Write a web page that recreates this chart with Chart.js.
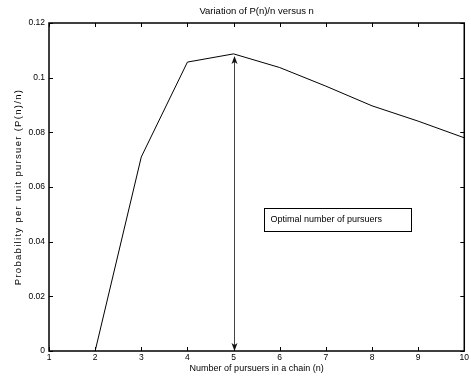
<!DOCTYPE html>
<html lang="en">
<head>
  <meta charset="UTF-8">
  <title>Variation of P(n)/n versus n</title>
  <script src="https://cdn.jsdelivr.net/npm/chart.js"></script>
  <style>
    body { margin:0; background:#fff; }
    #wrap { width:471px; height:377px; }
  </style>
</head>
<body>
<div id="wrap"><canvas id="chart" width="471" height="377"></canvas></div>

<script>
  // data
  const nValues = [2, 3, 4, 5, 6, 7, 8, 9, 10];
  const pValues = [0, 0.071, 0.1057, 0.1087, 0.1037, 0.0969, 0.0897, 0.0841, 0.078];
  const xTicks  = [1, 2, 3, 4, 5, 6, 7, 8, 9, 10];
  const yTicks  = [0, 0.02, 0.04, 0.06, 0.08, 0.1, 0.12];

  // annotation: double arrow at the optimum and the text box
  const optimumN     = 5;
  const optimumP     = 0.1087;
  const noteText     = 'Optimal number of pursuers';
  const noteBoxX     = [5.67, 8.85];
  const noteBoxY     = [0.0439, 0.0523];
  const yTitle       = 'Probability per unit pursuer (P(n)/n)';

  const FONT = 'Arial, "Liberation Sans", Helvetica, sans-serif';

  // frame + inward ticks on all four sides, like the original plot
  const framePlugin = {
    id: 'frame',
    afterDatasetsDraw(chart){
      const {ctx, chartArea:a, scales:{x, y}} = chart;
      ctx.save();
      ctx.strokeStyle = '#000';
      ctx.lineWidth = 1;
      ctx.beginPath();
      xTicks.forEach(v=>{
        const px = Math.round(x.getPixelForValue(v)) + 0.5;
        ctx.moveTo(px, a.bottom); ctx.lineTo(px, a.bottom - 4);
        ctx.moveTo(px, a.top);    ctx.lineTo(px, a.top + 4);
      });
      yTicks.forEach(v=>{
        const py = Math.round(y.getPixelForValue(v)) + 0.5;
        ctx.moveTo(a.left, py);  ctx.lineTo(a.left + 4, py);
        ctx.moveTo(a.right, py); ctx.lineTo(a.right - 4, py);
      });
      ctx.stroke();
      ctx.lineWidth = 1.5;
      ctx.strokeRect(a.left, a.top, a.right - a.left, a.bottom - a.top);

      // y axis title
      ctx.fillStyle = '#000';
      ctx.font = '9.5px ' + FONT;
      ctx.letterSpacing = '1.3px';
      ctx.textAlign = 'center';
      ctx.textBaseline = 'middle';
      ctx.translate(18, (a.top + a.bottom) / 2);
      ctx.rotate(-Math.PI / 2);
      ctx.fillText(yTitle, 0, 0);
      ctx.restore();
    }
  };

  function arrowHead(ctx, x, y, dir){
    // dir = -1 pointing up, 1 pointing down
    ctx.beginPath();
    ctx.moveTo(x, y);
    ctx.lineTo(x - 3, y - dir*8);
    ctx.lineTo(x, y - dir*6);
    ctx.lineTo(x + 3, y - dir*8);
    ctx.closePath();
    ctx.fill();
  }

  const notePlugin = {
    id: 'note',
    afterDatasetsDraw(chart){
      const {ctx, scales:{x, y}} = chart;
      ctx.save();
      // double arrow
      const ax = Math.round(x.getPixelForValue(optimumN)) + 0.5;
      const top = y.getPixelForValue(optimumP) + 2;
      const bot = y.getPixelForValue(0);
      ctx.strokeStyle = '#444';
      ctx.fillStyle = '#111';
      ctx.lineWidth = 1;
      ctx.beginPath();
      ctx.moveTo(ax, top + 5); ctx.lineTo(ax, bot - 5);
      ctx.stroke();
      arrowHead(ctx, ax, top, -1);
      arrowHead(ctx, ax, bot, 1);
      // text box
      const x0 = Math.round(x.getPixelForValue(noteBoxX[0])) + 0.5;
      const x1 = Math.round(x.getPixelForValue(noteBoxX[1])) + 0.5;
      const y0 = Math.round(y.getPixelForValue(noteBoxY[1])) + 0.5;
      const y1 = Math.round(y.getPixelForValue(noteBoxY[0])) + 0.5;
      ctx.strokeStyle = '#000';
      ctx.strokeRect(x0, y0, x1 - x0, y1 - y0);
      ctx.fillStyle = '#000';
      ctx.font = '9px ' + FONT;
      ctx.textBaseline = 'middle';
      ctx.textAlign = 'left';
      ctx.fillText(noteText, x0 + 6, (y0 + y1) / 2);
      ctx.restore();
    }
  };

  const fmt = v => String(+Number(v).toFixed(4));

  new Chart(document.getElementById('chart'), {
    type: 'line',
    data: {
      datasets: [{
        data: nValues.map((n,i)=>({x:n, y:pValues[i]})),
        borderColor: '#000',
        borderWidth: 1,
        pointRadius: 0,
        fill: false,
        tension: 0
      }]
    },
    options: {
      responsive: false,
      animation: false,
      layout: { padding: { left:0, right:6, top:0, bottom:0 } },
      plugins: {
        legend: { display:false },
        tooltip: { enabled:false },
        title: {
          display: true,
          text: 'Variation of P(n)/n versus n',
          fullSize: false,
          color: '#000',
          font: { family: FONT, size: 9.5, weight: 'normal' },
          padding: { top: 6, bottom: 5.6 }
        }
      },
      scales: {
        x: {
          type: 'linear',
          min: 1, max: 10,
          afterFit(s){ s.height = 26; },
          afterBuildTicks(s){ s.ticks = xTicks.map(v=>({value:v})); },
          grid: { display:false, drawTicks:false },
          border: { display:false },
          ticks: { color:'#000', padding:2, maxRotation:0, callback: fmt,
                   font: { family: FONT, size: 8.5 } },
          title: { display:true, text:'Number of pursuers in a chain (n)', color:'#000',
                   padding: { top:0, bottom:3 }, font: { family: FONT, size: 9 } }
        },
        y: {
          min: 0, max: 0.12,
          afterFit(s){ s.width = 49; },
          afterBuildTicks(s){ s.ticks = yTicks.map(v=>({value:v})); },
          grid: { display:false, drawTicks:false },
          border: { display:false },
          ticks: { color:'#000', padding:4, callback: fmt,
                   font: { family: FONT, size: 8.5 } }
        }
      }
    },
    plugins: [framePlugin, notePlugin]
  });
</script>
</body>
</html>
